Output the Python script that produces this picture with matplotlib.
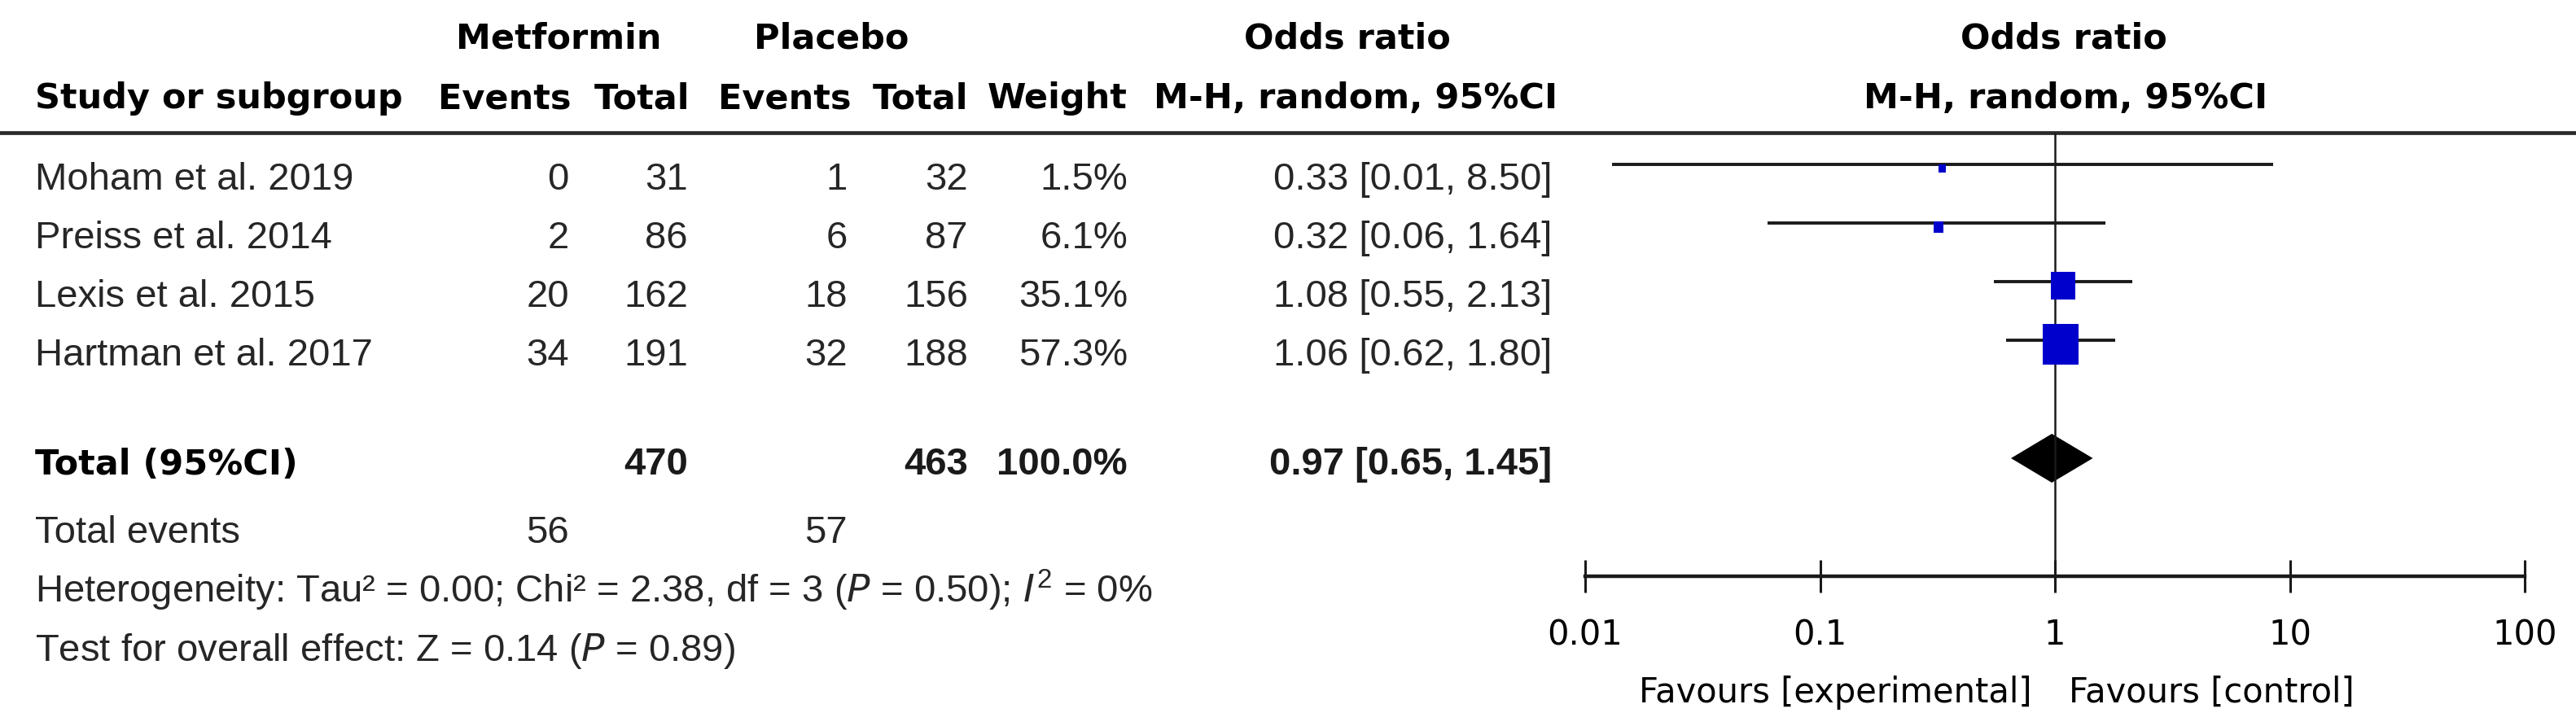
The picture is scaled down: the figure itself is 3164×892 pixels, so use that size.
import matplotlib
matplotlib.use("Agg")
import matplotlib.pyplot as plt
from matplotlib.ticker import FixedLocator, NullLocator

plt.rcParams['mathtext.fontset'] = 'custom'
plt.rcParams['mathtext.rm'] = 'Liberation Sans'
plt.rcParams['mathtext.it'] = 'DejaVu Sans:italic'

# datos del forest plot
studies = ["Moham et al. 2019", "Preiss et al. 2014", "Lexis et al. 2015", "Hartman et al. 2017"]
met_events = [0, 2, 20, 34]
met_total = [31, 86, 162, 191]
pla_events = [1, 6, 18, 32]
pla_total = [32, 87, 156, 188]
weights = [1.5, 6.1, 35.1, 57.3]
odds = [0.33, 0.32, 1.08, 1.06]
ci_low = [0.013, 0.06, 0.55, 0.62]
ci_high = [8.50, 1.64, 2.13, 1.80]

total_or = 0.97
total_low = 0.65
total_high = 1.45

het_text = "Heterogeneity: Tau² = 0.00; Chi² = 2.38, df = 3 ($P$ = 0.50); $I^2$ = 0%"
effect_text = "Test for overall effect: Z = 0.14 ($P$ = 0.89)"

axis_ticks = [0.01, 0.1, 1, 10, 100]
axis_labels = ["0.01", "0.1", "1", "10", "100"]

W, H = 3164, 892
fig = plt.figure(figsize=(W / 100, H / 100), dpi=100)

# tabla en coordenadas de pixel
tab = fig.add_axes([0, 0, 1, 1])
tab.set_xlim(0, W)
tab.set_ylim(H, 0)
tab.axis('off')

head = dict(family='DejaVu Sans', weight='bold', size=31, color='black', va='baseline')
row = dict(family='Liberation Sans', size=34, color='#262626', va='baseline')
rowb = dict(family='Liberation Sans', size=34, weight='bold', color='#1a1a1a', va='baseline')

# columnas (borde derecho)
c_me, c_mt, c_pe, c_pt, c_w, c_ci = 699, 845, 1041, 1189, 1385, 1906

tab.text(686, 60, "Metformin", ha='center', **head)
tab.text(1021, 60, "Placebo", ha='center', **head)
tab.text(1655, 60, "Odds ratio", ha='center', **head)
tab.text(2535, 60, "Odds ratio", ha='center', **head)
tab.text(43, 133, "Study or subgroup", ha='left', **head)
tab.text(702, 133, "Events", ha='right', **head)
tab.text(847, 133, "Total", ha='right', **head)
tab.text(1046, 133, "Events", ha='right', **head)
tab.text(1189, 133, "Total", ha='right', **head)
tab.text(1385, 133, "Weight", ha='right', **head)
tab.text(1665, 133, "M-H, random, 95%CI", ha='center', **head)
tab.text(2537, 133, "M-H, random, 95%CI", ha='center', **head)

tab.axhline(163, color='#2a2a2a', lw=3.4)

base0, step = 233, 72
for i, name in enumerate(studies):
    yb = base0 + step * i
    tab.text(43, yb, name, ha='left', **row)
    tab.text(c_me, yb, str(met_events[i]), ha='right', **row)
    tab.text(c_mt, yb, str(met_total[i]), ha='right', **row)
    tab.text(c_pe, yb, str(pla_events[i]), ha='right', **row)
    tab.text(c_pt, yb, str(pla_total[i]), ha='right', **row)
    tab.text(c_w, yb, f"{weights[i]:.1f}%", ha='right', **row)
    tab.text(c_ci, yb, f"{odds[i]:.2f} [{ci_low[i]:.2f}, {ci_high[i]:.2f}]", ha='right', **row)

yt = 583
tab.text(43, yt, "Total (95%CI)", ha='left', **head)
tab.text(c_mt, yt, str(sum(met_total)), ha='right', **rowb)
tab.text(c_pt, yt, str(sum(pla_total)), ha='right', **rowb)
tab.text(c_w, yt, f"{sum(weights):.1f}%", ha='right', **rowb)
tab.text(c_ci, yt, f"{total_or:.2f} [{total_low:.2f}, {total_high:.2f}]", ha='right', **rowb)

tab.text(43, 667, "Total events", ha='left', **row)
tab.text(c_me, 667, str(sum(met_events)), ha='right', **row)
tab.text(c_pe, 667, str(sum(pla_events)), ha='right', **row)
tab.text(43, 740, het_text, ha='left', **row)
tab.text(43, 812, effect_text, ha='left', **row)

tab.text(2496, 863, "Favours [experimental]", ha='right', va='baseline',
         family='DejaVu Sans', size=30, color='black')
tab.text(2541, 863, "Favours [control]", ha='left', va='baseline',
         family='DejaVu Sans', size=30, color='black')

# grafico
ax = fig.add_axes([1947 / W, 0, (3101 - 1947) / W, 1])
ax.set_xscale('log')
ax.set_xlim(0.01, 100)
ax.set_ylim(H, 0)
ax.patch.set_visible(False)
for s in ['top', 'left', 'right']:
    ax.spines[s].set_visible(False)
ax.spines['bottom'].set_position(('data', 708))
ax.spines['bottom'].set_linewidth(3.2)
ax.spines['bottom'].set_color('#1a1a1a')
ax.xaxis.set_major_locator(FixedLocator(axis_ticks))
ax.xaxis.set_minor_locator(NullLocator())
ax.set_xticklabels(axis_labels)
ax.tick_params(axis='x', direction='inout', length=28.5, width=2.2, pad=22.5,
               labelsize=30, color='#1a1a1a', labelcolor='black')
ax.set_yticks([])

ax.vlines(1, 163, 708, color='#1a1a1a', lw=1.8)

wmin, wmax = min(weights), max(weights)
for i in range(len(studies)):
    yl = base0 + step * i - 31
    ax.hlines(yl, ci_low[i], ci_high[i], color='#1a1a1a', lw=2.8, clip_on=False)
    wpx = 9 + 35 * (weights[i] - wmin) / (wmax - wmin)
    hpx = 1.12 * wpx
    verts = [(-wpx / 2, -hpx / 2), (wpx / 2, -hpx / 2), (wpx / 2, hpx / 2),
             (-wpx / 2, hpx / 2), (-wpx / 2, -hpx / 2)]
    ax.plot(odds[i], yl + 4.5, marker=verts, markersize=hpx * 0.72,
            color='#0000cc', mew=0, ls='none')

yd = 563
ax.fill([total_low, total_or, total_high, total_or], [yd, yd - 30, yd, yd + 30],
        color='black', lw=0)

fig.savefig('out.png', dpi=100)
